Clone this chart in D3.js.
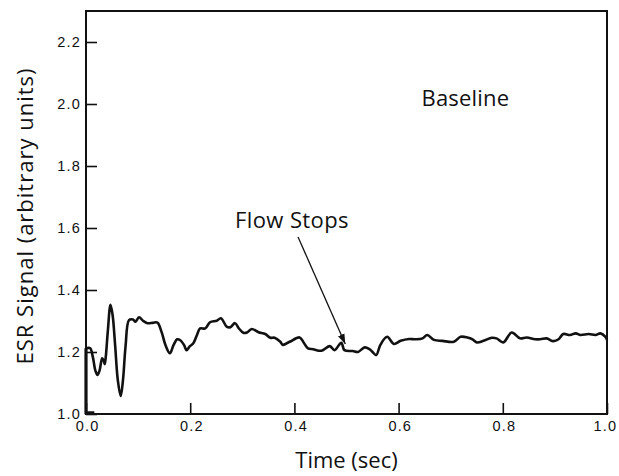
<!DOCTYPE html>
<html>
<head>
<meta charset="utf-8">
<script src="https://cdn.jsdelivr.net/npm/d3@7"></script>
<style>
  html, body { margin: 0; padding: 0; background: #fff; }
  svg { display: block; }
  .tick text { font-family: "Liberation Sans", Arial, sans-serif; font-size: 14.5px; letter-spacing: 1.2px; fill: #111; }
  .title { font-family: "Open Sans", "DejaVu Sans", sans-serif; font-size: 22px; fill: #111; }
</style>
</head>
<body>
<svg id="chart" width="619" height="476"></svg>
<script>
// ESR signal trace, time in seconds
const time = [
  0.000, 0.008, 0.013, 0.018, 0.022, 0.026, 0.031, 0.034, 0.036, 0.038,
  0.042, 0.047, 0.051, 0.056, 0.061, 0.0666, 0.071, 0.076, 0.0826, 0.090,
  0.095, 0.1018, 0.110, 0.118, 0.128, 0.137, 0.145, 0.153, 0.161, 0.168,
  0.175, 0.181, 0.188, 0.193, 0.199, 0.206, 0.213, 0.219, 0.229, 0.238,
  0.251, 0.259, 0.270, 0.277, 0.286, 0.294, 0.302, 0.309, 0.318, 0.331,
  0.344, 0.354, 0.362, 0.373, 0.378, 0.391, 0.410, 0.418, 0.426, 0.436,
  0.452, 0.468, 0.477, 0.490, 0.496, 0.512, 0.522, 0.535, 0.544, 0.550,
  0.557, 0.565, 0.578, 0.591, 0.604, 0.620, 0.633, 0.646, 0.655, 0.668,
  0.684, 0.706, 0.719, 0.732, 0.742, 0.750, 0.763, 0.779, 0.788, 0.801,
  0.817, 0.833, 0.846, 0.862, 0.872, 0.884, 0.897, 0.907, 0.916, 0.929,
  0.940, 0.949, 0.965, 0.978, 0.9875, 0.997, 1.000
];
const signal = [
  1.212, 1.212, 1.185, 1.140, 1.126, 1.140, 1.180, 1.172, 1.161, 1.185,
  1.270, 1.352, 1.320, 1.220, 1.110, 1.058, 1.110, 1.220, 1.303, 1.305,
  1.298, 1.312, 1.300, 1.293, 1.294, 1.295, 1.265, 1.220, 1.196, 1.222,
  1.241, 1.238, 1.223, 1.206, 1.218, 1.228, 1.255, 1.276, 1.276, 1.296,
  1.301, 1.309, 1.282, 1.280, 1.293, 1.275, 1.262, 1.263, 1.274, 1.264,
  1.258, 1.246, 1.246, 1.233, 1.223, 1.233, 1.247, 1.230, 1.212, 1.209,
  1.204, 1.219, 1.206, 1.230, 1.206, 1.203, 1.200, 1.215, 1.209, 1.200,
  1.190, 1.223, 1.249, 1.226, 1.236, 1.242, 1.241, 1.244, 1.255, 1.239,
  1.236, 1.233, 1.249, 1.247, 1.241, 1.231, 1.236, 1.246, 1.244, 1.231,
  1.263, 1.244, 1.247, 1.241, 1.241, 1.244, 1.235, 1.241, 1.258, 1.255,
  1.260, 1.255, 1.258, 1.255, 1.260, 1.249, 1.239
];
// pen start at zero level before the trace begins
const startTime = [0.016, 0.000, 0.000];
const startSignal = [1.004, 1.004, 1.212];

const xTicks = [0.0, 0.2, 0.4, 0.6, 0.8, 1.0];
const yTicks = [1.0, 1.2, 1.4, 1.6, 1.8, 2.0, 2.2];

// "Flow Stops" arrow: tail and tip in data units
const arrowTime = [0.407, 0.4976];
const arrowSignal = [1.571, 1.226];

const svg = d3.select("#chart");
const padLeft = 86, padRight = 607, padTop = 11, padBottom = 414;

const x = d3.scaleLinear().domain([0, 1]).range([padLeft, padRight]);
const y = d3.scaleLinear().domain([1.0, 2.3]).range([padBottom, padTop]);

// frame
svg.append("rect")
  .attr("x", padLeft).attr("y", padTop)
  .attr("width", padRight - padLeft).attr("height", padBottom - padTop)
  .attr("fill", "none").attr("stroke", "#111").attr("stroke-width", 2);

// axes with inward ticks
const yAxis = svg.append("g")
  .attr("transform", `translate(${padLeft},0)`)
  .call(d3.axisLeft(y).tickValues(yTicks).tickFormat(d3.format(".1f"))
    .tickSizeInner(-11).tickSizeOuter(0).tickPadding(5));
yAxis.select(".domain").remove();
yAxis.selectAll(".tick line").attr("stroke", "#111").attr("stroke-width", 1.6);

const xAxis = svg.append("g")
  .attr("transform", `translate(0,${padBottom})`)
  .call(d3.axisBottom(x).tickValues(xTicks).tickFormat(d3.format(".1f"))
    .tickSizeInner(-11).tickSizeOuter(0).tickPadding(7));
xAxis.select(".domain").remove();
xAxis.selectAll(".tick line").attr("stroke", "#111").attr("stroke-width", 1.6);
xAxis.selectAll(".tick text").attr("dx", d => d === 1.0 ? "-0.15em" : "0.08em");

// trace
const line = d3.line().x(d => x(d[0])).y(d => y(d[1]));
svg.append("path")
  .datum(startTime.map((t, i) => [t, startSignal[i]]))
  .attr("d", line).attr("fill", "none")
  .attr("stroke", "#111").attr("stroke-width", 3.2);
svg.append("path")
  .datum(time.map((t, i) => [t, signal[i]]))
  .attr("d", line.curve(d3.curveCatmullRom.alpha(0.5)))
  .attr("fill", "none")
  .attr("stroke", "#111").attr("stroke-width", 2.6)
  .attr("stroke-linejoin", "round");

// arrow
svg.append("defs").append("marker")
  .attr("id", "head").attr("viewBox", "0 0 10 10")
  .attr("refX", 10).attr("refY", 5)
  .attr("markerWidth", 10).attr("markerHeight", 10)
  .attr("markerUnits", "userSpaceOnUse")
  .attr("orient", "auto")
  .append("path").attr("d", "M0,1.5 L10,5 L0,8.5 Z").attr("fill", "#111");
svg.append("line")
  .attr("x1", x(arrowTime[0])).attr("y1", y(arrowSignal[0]))
  .attr("x2", x(arrowTime[1])).attr("y2", y(arrowSignal[1]))
  .attr("stroke", "#111").attr("stroke-width", 1.3)
  .attr("marker-end", "url(#head)");

// annotations
svg.append("text").attr("class", "title")
  .attr("x", x(0.286)).attr("y", y(1.60))
  .attr("letter-spacing", "0.4px")
  .text("Flow Stops");
svg.append("text").attr("class", "title")
  .attr("x", x(0.644)).attr("y", y(1.993))
  .attr("letter-spacing", "0.2px")
  .text("Baseline");

// axis titles
svg.append("text").attr("class", "title")
  .attr("text-anchor", "middle")
  .attr("x", (padLeft + padRight) / 2).attr("y", 468)
  .text("Time (sec)");
svg.append("text").attr("class", "title")
  .attr("text-anchor", "middle")
  .attr("letter-spacing", "1px")
  .attr("transform", `translate(33,216) rotate(-90)`)
  .text("ESR Signal (arbitrary units)");
</script>
</body>
</html>
